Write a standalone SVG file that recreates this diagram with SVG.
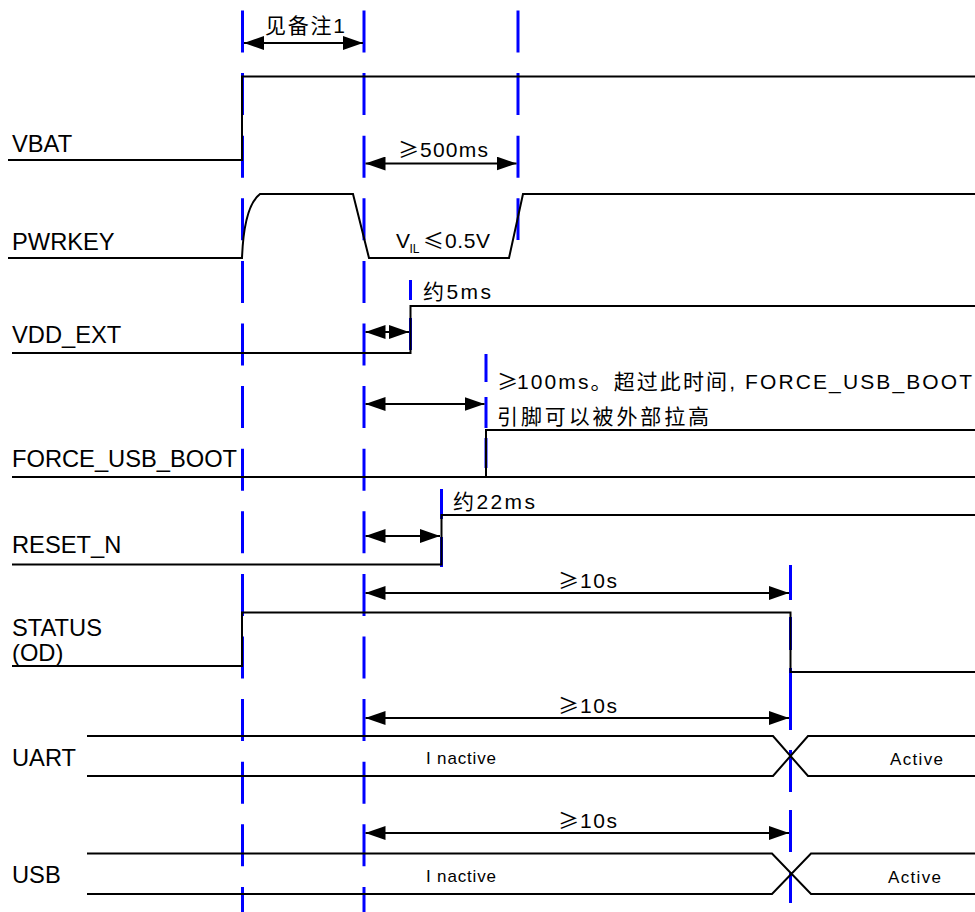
<svg xmlns="http://www.w3.org/2000/svg" width="975" height="912" viewBox="0 0 975 912">
<style>
.bg{fill:#ffffff}
.sig{fill:none;stroke:#000;stroke-width:2}
.dash{fill:none;stroke:#0000ff;stroke-width:3;stroke-dasharray:42 20.6}
.blue{fill:none;stroke:#0000ff;stroke-width:3}
.arr{fill:none;stroke:#000;stroke-width:2;marker-start:url(#ah);marker-end:url(#ah)}
.lbl{font-family:"Liberation Sans","Noto Sans CJK SC",sans-serif;font-size:23.7px;fill:#000}
.ann{font-family:"Liberation Sans","Noto Sans CJK SC",sans-serif;font-size:21px;fill:#000}
.ge{font-family:"Noto Sans CJK SC","Liberation Sans",sans-serif;font-size:21px}
.st{font-family:"Liberation Sans",sans-serif;font-size:17px;fill:#000}
</style>
<defs>
<marker id="ah" markerUnits="userSpaceOnUse" markerWidth="20" markerHeight="14" refX="20" refY="7" orient="auto-start-reverse" viewBox="0 0 20 14">
<path d="M0,0 L20,7 L0,14 z" fill="#000"/>
</marker>
</defs>
<rect class="bg" x="0" y="0" width="975" height="912"/>

<g id="guides">
<line class="dash" x1="242.5" y1="10.5" x2="242.5" y2="912"/>
<line class="dash" x1="364" y1="10.5" x2="364" y2="912"/>
<line class="dash" x1="518" y1="10.5" x2="518" y2="240"/>
<path class="blue" d="M410.5,280V300M410.5,318V350"/>
<path class="blue" d="M486,354V382M486,397V428M486,438V468"/>
<path class="blue" d="M441.5,489V519M441.5,537V567"/>
<path class="blue" d="M790.5,565V600M790.5,617V650M790.5,668V703M790.5,690V730M790.5,750V792M790.5,810V852M790.5,873V903"/>
</g>

<g id="VBAT">
<text class="lbl" x="12" y="152">VBAT</text>
<path class="sig" d="M8,160H242V76.5H975"/>
</g>

<g id="PWRKEY">
<text class="lbl" x="12" y="250">PWRKEY</text>
<path class="sig" d="M8,258H242C243,232 247,204 260,194H353L369,258H509L523,194H975"/>
<text class="ann" y="248" font-size="21"><tspan x="396">V</tspan><tspan x="409.5" y="253" font-size="12">IL</tspan><tspan class="ge" x="423" y="248">≤</tspan><tspan x="445" y="248" textLength="45" lengthAdjust="spacing">0.5V</tspan></text>
</g>

<g id="VDD_EXT">
<text class="lbl" x="12" y="342.5">VDD_EXT</text>
<path class="sig" d="M12,353H410.5V306H975"/>
</g>

<g id="FORCE_USB_BOOT">
<text class="lbl" x="12" y="466.5">FORCE_USB_BOOT</text>
<path class="sig" d="M12,477H975M486,477V430H975"/>
</g>

<g id="RESET_N">
<text class="lbl" x="12" y="553">RESET_N</text>
<path class="sig" d="M12,564.5H441.5V515H975"/>
</g>

<g id="STATUS">
<text class="lbl" x="12" y="636">STATUS</text>
<text class="lbl" x="12" y="661">(OD)</text>
<path class="sig" d="M12,666H242V612.5H790.5V672H975"/>
</g>

<g id="UART">
<text class="lbl" x="12" y="766">UART</text>
<path class="sig" d="M87,736H773L808,776H975M87,776H773L808,736H975"/>
<text class="st" x="426" y="763.5" textLength="70" lengthAdjust="spacing">I nactive</text>
<text class="st" x="890" y="765" textLength="53" lengthAdjust="spacing">Active</text>
</g>

<g id="USB">
<text class="lbl" x="12" y="883">USB</text>
<path class="sig" d="M87,853.5H772L811,894H975M87,894H772L811,853.5H975"/>
<text class="st" x="426" y="882" textLength="70" lengthAdjust="spacing">I nactive</text>
<text class="st" x="888" y="882.5" textLength="53" lengthAdjust="spacing">Active</text>
</g>

<g id="connectors">
<line class="arr" x1="244" y1="43" x2="363" y2="43"/>
<line class="arr" x1="365.5" y1="163.5" x2="516.5" y2="163.5"/>
<line class="arr" x1="365.5" y1="332" x2="409" y2="332"/>
<line class="arr" x1="365.5" y1="404" x2="484.5" y2="404"/>
<line class="arr" x1="365.5" y1="536" x2="440" y2="536"/>
<line class="arr" x1="365.5" y1="593" x2="789" y2="593"/>
<line class="arr" x1="365.5" y1="718" x2="789" y2="718"/>
<line class="arr" x1="365.5" y1="833" x2="789" y2="833"/>
</g>

<g id="annotations">
<text class="ann" x="265" y="33" textLength="80" lengthAdjust="spacing">见备注1</text>
<text class="ann" y="157"><tspan class="ge" x="398">≥</tspan><tspan x="420" textLength="68" lengthAdjust="spacing">500ms</tspan></text>
<text class="ann" x="423" y="299" textLength="68" lengthAdjust="spacing">约5ms</text>
<text class="ann" y="389"><tspan class="ge" x="497">≥</tspan><tspan x="517" textLength="455" lengthAdjust="spacing">100ms。超过此时间, FORCE_USB_BOOT</tspan></text>
<text class="ann" x="497" y="424" textLength="212" lengthAdjust="spacing">引脚可以被外部拉高</text>
<text class="ann" x="453" y="509" textLength="82" lengthAdjust="spacing">约22ms</text>
<text class="ann" y="588"><tspan class="ge" x="558">≥</tspan><tspan x="580" textLength="37" lengthAdjust="spacing">10s</tspan></text>
<text class="ann" y="713"><tspan class="ge" x="558">≥</tspan><tspan x="580" textLength="37" lengthAdjust="spacing">10s</tspan></text>
<text class="ann" y="828"><tspan class="ge" x="558">≥</tspan><tspan x="580" textLength="37" lengthAdjust="spacing">10s</tspan></text>
</g>
</svg>
